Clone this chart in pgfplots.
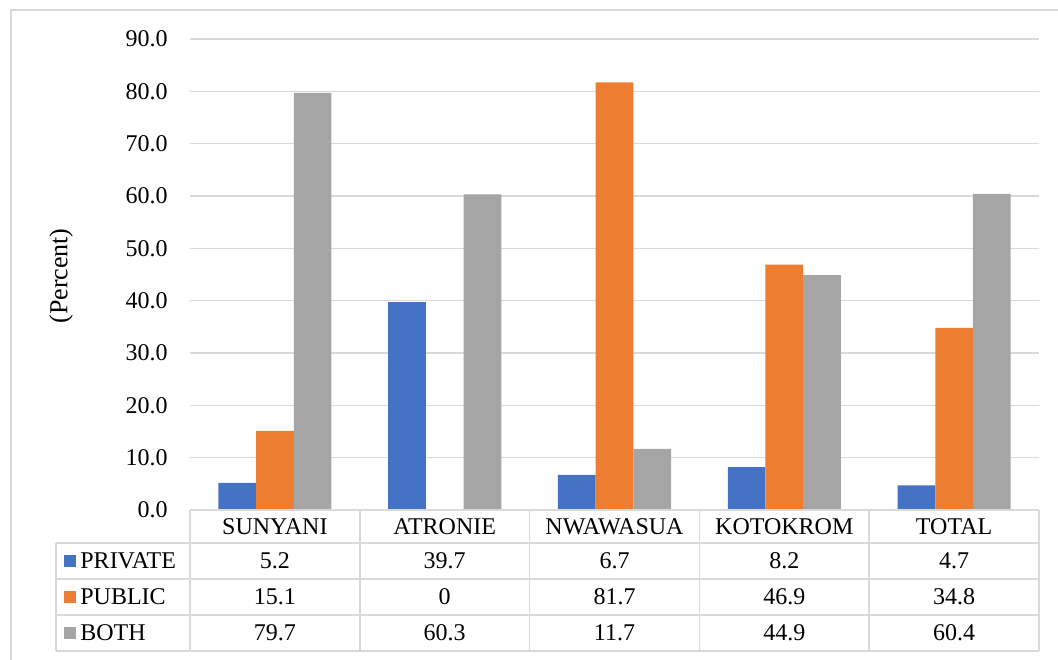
\documentclass[border=0pt]{standalone}
\usepackage{pgfplots}
\pgfplotsset{compat=1.18}
\usepackage{fontspec}
\setmainfont{Liberation Serif}
\definecolor{cPriv}{HTML}{4472C4}
\definecolor{cPub}{HTML}{ED7D31}
\definecolor{cBoth}{HTML}{A5A5A5}
\definecolor{gridgray}{HTML}{D9D9D9}
\begin{document}
\fontsize{12}{14}\selectfont
\begin{tikzpicture}
\path[use as bounding box] (-95pt,-74.5pt) rectangle (434pt,255pt);
\draw[gridgray, line width=0.75pt] (-89.5pt,-80pt) -- (-89.5pt,250pt) -- (440pt,250pt);
\begin{axis}[
  at={(0pt,0pt)}, anchor=south west,
  scale only axis, width=424.5pt, height=235.5pt,
  xmin=-0.5, xmax=4.5, ymin=0, ymax=90,
  ybar=0pt, bar width=18.85pt,
  xtick=\empty,
  ytick={0,10,20,30,40,50,60,70,80,90},
  yticklabels={0.0,10.0,20.0,30.0,40.0,50.0,60.0,70.0,80.0,90.0},
  ymajorgrids, grid style={gridgray, line width=0.75pt},
  axis line style={draw=none},
  major tick length=0pt,
  yticklabel style={xshift=-7pt},
  clip=false,
]
\addplot[fill=cPriv, draw=none] coordinates {(0,5.2) (1,39.7) (2,6.7) (3,8.2) (4,4.7)};
\addplot[fill=cPub, draw=none] coordinates {(0,15.1) (1,0) (2,81.7) (3,46.9) (4,34.8)};
\addplot[fill=cBoth, draw=none] coordinates {(0,79.7) (1,60.3) (2,11.7) (3,44.9) (4,60.4)};
\end{axis}
% y label
\node[rotate=90, font=\fontsize{13}{15}\selectfont] at (-64.5pt,117pt) {(Percent)};
% data table grid
\begin{scope}[gridgray, line width=0.75pt]
\draw (0pt,0pt) -- (424.5pt,0pt);
\foreach \y in {-16.5,-34.5,-52.5,-70.5} \draw (-67pt,\y pt) -- (424.5pt,\y pt);
\foreach \x in {0,84.9,169.8,254.7,339.6,424.5} \draw (\x pt,0pt) -- (\x pt,-70.5pt);
\draw (-67pt,-16.5pt) -- (-67pt,-70.5pt);
\end{scope}
% header
\foreach \lab [count=\i from 0] in {SUNYANI,ATRONIE,NWAWASUA,KOTOKROM,TOTAL}
  \node at ({42.45pt+\i*84.9pt},-8.25pt) {\lab};
% legend keys
\fill[cPriv] (-63pt,-28.5pt) rectangle (-57pt,-22.5pt);
\fill[cPub] (-63pt,-46.5pt) rectangle (-57pt,-40.5pt);
\fill[cBoth] (-63pt,-64.5pt) rectangle (-57pt,-58.5pt);
\node[anchor=west, inner sep=0pt] at (-55pt,-25.5pt) {PRIVATE};
\node[anchor=west, inner sep=0pt] at (-55pt,-43.5pt) {PUBLIC};
\node[anchor=west, inner sep=0pt] at (-55pt,-61.5pt) {BOTH};
% values
\foreach \v [count=\i from 0] in {5.2,39.7,6.7,8.2,4.7}
  \node at ({42.45pt+\i*84.9pt},-25.5pt) {\v};
\foreach \v [count=\i from 0] in {15.1,0,81.7,46.9,34.8}
  \node at ({42.45pt+\i*84.9pt},-43.5pt) {\v};
\foreach \v [count=\i from 0] in {79.7,60.3,11.7,44.9,60.4}
  \node at ({42.45pt+\i*84.9pt},-61.5pt) {\v};
\end{tikzpicture}
\end{document}
